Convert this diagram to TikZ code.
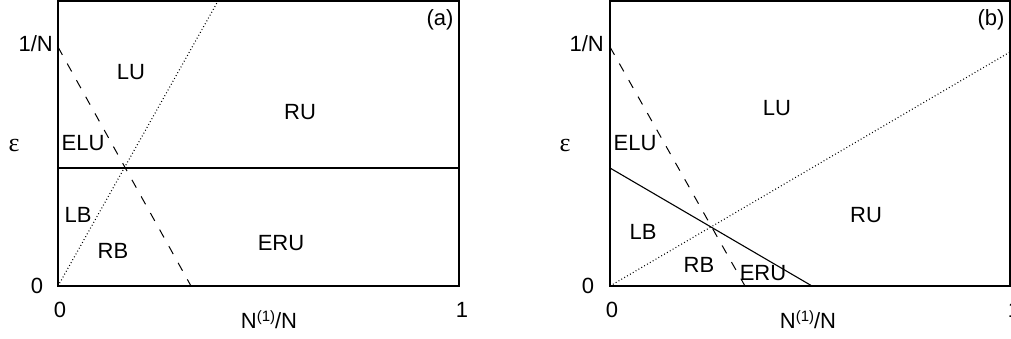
\documentclass[tikz,border=0pt]{standalone}
\usepackage{fontspec}
\setmainfont{Liberation Sans}
\newfontfamily\greekserif{Liberation Serif}
\newcommand{\supone}{\raisebox{7pt}{\fontsize{15}{18}\selectfont(1)}}
\newcommand{\epsglyph}{{\greekserif\fontsize{26}{30}\selectfont ε}}
\begin{document}
\begin{tikzpicture}[x=1pt,y=-1pt,
  lbl/.style={inner sep=0pt,font=\fontsize{22}{26}\selectfont},
  frame/.style={draw=black,line width=1.4pt},
  bound/.style={line width=1.1pt},
  dashbound/.style={line width=1pt,dash pattern=on 9pt off 10pt},
  dotbound/.style={line width=1.1pt,dash pattern=on 0.9pt off 2.4pt}]
\useasboundingbox (0,0) rectangle (1011,339);
% ---------- panel (a)
\draw[frame] (58,1) rectangle (459,286);
\coordinate (a1) at (58,47);  \coordinate (a2) at (191,286);
\coordinate (a3) at (58,286); \coordinate (a4) at (218,1);
\coordinate (a5) at (58,168); \coordinate (a6) at (459,168);
\draw[dashbound] (a1) -- (a2);
\draw[dotbound] (a3) -- (a4);
\draw[bound] (a5) -- (a6);
\node[lbl,anchor=east] (an) at (53,44) {1/N};
\node[lbl] (aeps) at (14,146) {\epsglyph};
\node[lbl] (a0l) at (37,286) {0};
\node[lbl] (a0b) at (60,310) {0};
\node[lbl] (a1b) at (462,310) {1};
\node[lbl] (ax) at (269,320) {N\supone/N};
\node[lbl] (atag) at (440,20) {(a)};
\node[lbl] (aLU) at (131,72) {LU};
\node[lbl] (aRU) at (300,112) {RU};
\node[lbl] (aELU) at (83,143) {ELU};
\node[lbl] (aLB) at (78,215) {LB};
\node[lbl] (aRB) at (113,251) {RB};
\node[lbl] (aERU) at (281,243) {ERU};
% ---------- panel (b)
\draw[frame] (610,1) rectangle (1010,286);
\coordinate (b1) at (610,47);  \coordinate (b2) at (745,286);
\coordinate (b3) at (610,286); \coordinate (b4) at (1010,52);
\coordinate (b5) at (610,168); \coordinate (b6) at (812,286);
\draw[dashbound] (b1) -- (b2);
\draw[dotbound] (b3) -- (b4);
\draw[bound] (b5) -- (b6);
\node[lbl,anchor=east] (bn) at (604,44) {1/N};
\node[lbl] (beps) at (565,146) {\epsglyph};
\node[lbl] (b0l) at (588,286) {0};
\node[lbl] (b0b) at (612,310) {0};
\node[lbl] (b1b) at (1014,310) {1};
\node[lbl] (bx) at (808,320) {N\supone/N};
\node[lbl] (btag) at (991,20) {(b)};
\node[lbl] (bLU) at (777,108) {LU};
\node[lbl] (bRU) at (866,215) {RU};
\node[lbl] (bELU) at (635,143) {ELU};
\node[lbl] (bLB) at (643,232) {LB};
\node[lbl] (bRB) at (699,265) {RB};
\node[lbl] (bERU) at (763,273) {ERU};
\end{tikzpicture}
\end{document}
